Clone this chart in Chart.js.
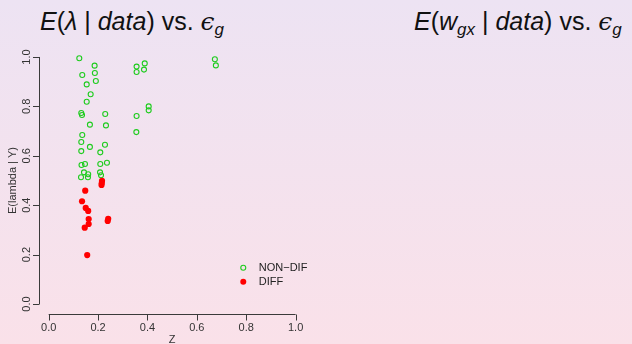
<!DOCTYPE html>
<html><head><meta charset="utf-8">
<script src="https://cdn.jsdelivr.net/npm/chart.js@4/dist/chart.umd.min.js"></script>
<style>
html,body{margin:0;padding:0;width:632px;height:344px;overflow:hidden;}
body{background:linear-gradient(to bottom,#ede3f3,#fae1e9);position:relative;}
.t{position:absolute;top:9px;font-family:"Liberation Sans",Arial,sans-serif;font-size:25px;line-height:1;color:#111;white-space:nowrap;}
.t sub{font-size:17px;vertical-align:-5px;line-height:0;}
.eps{font-family:"DejaVu Serif",serif;font-style:italic;}
#wrap{position:absolute;left:0;top:0;width:632px;height:344px;}
</style></head>
<body>
<div class="t" style="left:40px"><i>E</i>(<i>λ</i> | <i>data</i>) vs. <span class="eps">ϵ</span><sub><i>g</i></sub></div>
<div class="t" style="left:414px"><i>E</i>(<i>w<sub>gx</sub></i> | <i>data</i>) vs. <span class="eps">ϵ</span><sub><i>g</i></sub></div>
<div id="wrap"><canvas id="c" width="632" height="344"></canvas></div>
<script>
const nonDifZ = [0.124,0.186,0.136,0.187,0.356,0.389,0.356,0.386,0.154,0.191,0.170,0.154,0.132,0.135,0.229,0.405,0.405,0.356,0.167,0.232,0.355,0.136,0.132,0.228,0.167,0.132,0.209,0.133,0.147,0.209,0.236,0.143,0.160,0.208,0.131,0.159,0.212,0.673,0.677];
const nonDifE = [0.995,0.965,0.927,0.935,0.961,0.974,0.939,0.949,0.889,0.903,0.849,0.819,0.773,0.765,0.769,0.800,0.784,0.761,0.726,0.723,0.696,0.684,0.656,0.645,0.636,0.619,0.614,0.563,0.567,0.567,0.572,0.533,0.525,0.533,0.513,0.513,0.521,0.991,0.966];
const difZ = [0.216,0.215,0.214,0.148,0.135,0.150,0.160,0.162,0.241,0.239,0.162,0.146,0.156];
const difE = [0.499,0.490,0.482,0.459,0.416,0.389,0.377,0.344,0.345,0.336,0.324,0.309,0.198];
const xTicks = [0.0,0.2,0.4,0.6,0.8,1.0];
const yTicks = [0.0,0.2,0.4,0.6,0.8,1.0];
const xTitle = 'Z';
const yTitle = 'E(lambda | Y)';
const seriesNames = ['NON\u2212DIF','DIFF'];
const seriesColors = ['#1ecc1e','#ff0000'];

const toPts = (xs, ys) => xs.map((v,i)=>({x:v,y:ys[i]}));

const rAxes = {
  id:'rAxes',
  afterDraw(chart){
    const {ctx, chartArea:a, scales:{x,y}} = chart;
    ctx.save();
    ctx.strokeStyle='#3a3a3a'; ctx.lineWidth=1; ctx.fillStyle='#333';
    ctx.font='11px "Liberation Sans", Arial, sans-serif';
    const yb = Math.round(a.bottom)+0.5;
    const xs = x.ticks.map(t=>x.getPixelForValue(t.value));
    ctx.beginPath(); ctx.moveTo(xs[0],yb); ctx.lineTo(xs[xs.length-1],yb);
    xs.forEach(px=>{ctx.moveTo(Math.round(px)+0.5,yb); ctx.lineTo(Math.round(px)+0.5,yb+6);});
    ctx.stroke();
    ctx.textAlign='center'; ctx.textBaseline='middle';
    x.ticks.forEach((t,i)=>ctx.fillText(t.value.toFixed(1), xs[i], yb+13.5));
    ctx.fillText(xTitle,(a.left+a.right)/2, yb+25);
    const xl = Math.round(a.left)+0.5;
    const ys = y.ticks.map(t=>y.getPixelForValue(t.value));
    ctx.beginPath(); ctx.moveTo(xl,ys[0]); ctx.lineTo(xl,ys[ys.length-1]);
    ys.forEach(py=>{ctx.moveTo(xl,Math.round(py)+0.5); ctx.lineTo(xl-6.5,Math.round(py)+0.5);});
    ctx.stroke();
    y.ticks.forEach((t,i)=>{
      ctx.save(); ctx.translate(xl-13,ys[i]); ctx.rotate(-Math.PI/2);
      ctx.fillText(t.value.toFixed(1),0,0); ctx.restore();
    });
    ctx.save(); ctx.translate(12.5,(a.top+a.bottom)/2); ctx.rotate(-Math.PI/2);
    ctx.fillText(yTitle,0,0); ctx.restore();
    const lx = x.getPixelForValue(0.788), ly0 = y.getPixelForValue(0.147);
    seriesNames.forEach((n,i)=>{
      const ly = ly0 + i*14;
      ctx.beginPath(); ctx.arc(lx,ly,i===0?2.5:3,0,Math.PI*2);
      if(i===0){ctx.strokeStyle=seriesColors[0]; ctx.lineWidth=1.1; ctx.stroke();}
      else {ctx.fillStyle=seriesColors[1]; ctx.fill();}
      ctx.fillStyle='#222'; ctx.textAlign='left'; ctx.textBaseline='middle';
      ctx.fillText(n, lx+15.5, ly+0.5);
    });
    ctx.restore();
  }
};

new Chart(document.getElementById('c'), {
  type:'scatter',
  data:{datasets:[
    {label:seriesNames[1], data:toPts(difZ,difE), pointStyle:'circle', pointRadius:3.1, pointBorderWidth:0, backgroundColor:seriesColors[1], borderColor:seriesColors[1], order:0},
    {label:seriesNames[0], data:toPts(nonDifZ,nonDifE), pointStyle:'circle', pointRadius:2.5, pointBorderWidth:1.1, backgroundColor:'rgba(0,0,0,0)', borderColor:seriesColors[0], order:1}
  ]},
  options:{
    responsive:false, animation:false, devicePixelRatio:1,
    layout:{padding:{left:38.8, right:326.5, top:47.1, bottom:30.1}},
    plugins:{legend:{display:false}, tooltip:{enabled:false}},
    scales:{
      x:{type:'linear', display:false, min:-0.04, max:1.04, afterBuildTicks:s=>{s.ticks=xTicks.map(v=>({value:v}));}},
      y:{type:'linear', display:false, min:-0.04, max:1.04, afterBuildTicks:s=>{s.ticks=yTicks.map(v=>({value:v}));}}
    }
  },
  plugins:[rAxes]
});
</script>
</body></html>
